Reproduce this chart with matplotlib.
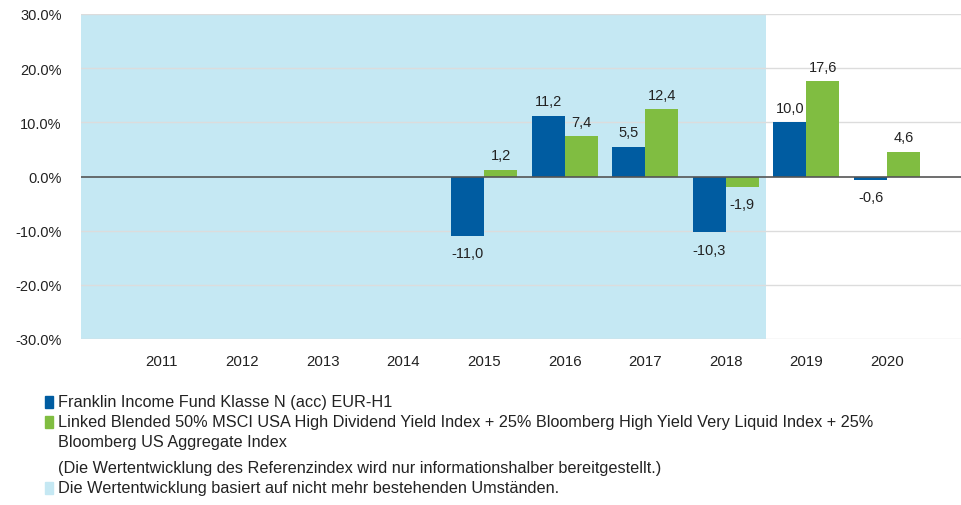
import matplotlib.pyplot as plt
import numpy as np
from matplotlib.patches import Rectangle

#------
# data
years = ['2011', '2012', '2013', '2014', '2015', '2016', '2017', '2018', '2019', '2020']
fund = [np.nan, np.nan, np.nan, np.nan, -11.0, 11.2, 5.5, -10.3, 10.0, -0.6]
bench = [np.nan, np.nan, np.nan, np.nan, 1.2, 7.4, 12.4, -1.9, 17.6, 4.6]
shade_until = 7  # index of last year with shaded background (2018)

fund_label = 'Franklin Income Fund Klasse N (acc) EUR-H1'
bench_label = ('Linked Blended 50% MSCI USA High Dividend Yield Index + 25% '
               'Bloomberg High Yield Very Liquid Index + 25%\nBloomberg US Aggregate Index')
note_label = '(Die Wertentwicklung des Referenzindex wird nur informationshalber bereitgestellt.)'
shade_label = 'Die Wertentwicklung basiert auf nicht mehr bestehenden Umständen.'

#------
# styles
c_fund = '#005ca1'
c_bench = '#80bd41'
c_shade = '#c5e8f3'
plt.rcParams['font.family'] = ['Liberation Sans', 'DejaVu Sans']

fig = plt.figure(figsize=(9.62, 5.06), dpi=100)
ax = fig.add_axes([81/962, 1-340/506, 1-81/962, 325/506])

x = np.arange(len(years))
w = 0.41
xmin, xmax = -1.0, 9.93
ax.set_xlim(xmin, xmax)
ax.set_ylim(-30, 30)

ax.axvspan(xmin, shade_until + 0.5, color=c_shade, zorder=0, lw=0)
for yv in np.arange(-30, 31, 10):
    if yv != 0:
        ax.axhline(yv, color='#dcdcdc', lw=1, zorder=1)

b1 = ax.bar(x - w/2, fund, w, color=c_fund, zorder=2)
b2 = ax.bar(x + w/2, bench, w, color=c_bench, zorder=2)
ax.axhline(0, color='#555555', lw=1.2, zorder=3)

for xs, vals in [(x - w/2, fund), (x + w/2, bench)]:
    for xi, v in zip(xs, vals):
        if np.isnan(v):
            continue
        txt = ('%.1f' % v).replace('.', ',')
        if v >= 0:
            ax.annotate(txt, (xi, v), xytext=(0, 5.5), textcoords='offset points',
                        ha='center', va='bottom', fontsize=10.5, color='#222222')
        else:
            ax.annotate(txt, (xi, v), xytext=(0, -7.5), textcoords='offset points',
                        ha='center', va='top', fontsize=10.5, color='#222222')

ax.set_yticks(np.arange(-30, 31, 10))
ax.set_yticklabels(['%.1f%%' % v for v in np.arange(-30, 31, 10)], fontsize=10.5, color='#222222')
ax.set_xticks(x)
ax.set_xticklabels(years, fontsize=10.8, color='#222222')
ax.tick_params(axis='x', length=0, pad=11)
ax.tick_params(axis='y', length=0, pad=14)
for s in ax.spines.values():
    s.set_visible(False)

#------
# legend drawn by hand in figure pixels
def px(xp, yp):
    return xp/962, 1 - yp/506

rows = [(403, c_fund, fund_label), (423, c_bench, bench_label),
        (469, None, note_label), (489, c_shade, shade_label)]
for yp, col, lab in rows:
    if col is not None:
        x0, y0 = px(45, yp + 6)
        fig.patches.append(Rectangle((x0, y0), 8/962, 12/506, color=col,
                                     transform=fig.transFigure, figure=fig))
    tx, ty = px(58, yp - 8)
    fig.text(tx, ty, lab, fontsize=11.7, va='top', ha='left', color='#222222',
             linespacing=1.38)

fig.savefig('out.png', dpi=100)
